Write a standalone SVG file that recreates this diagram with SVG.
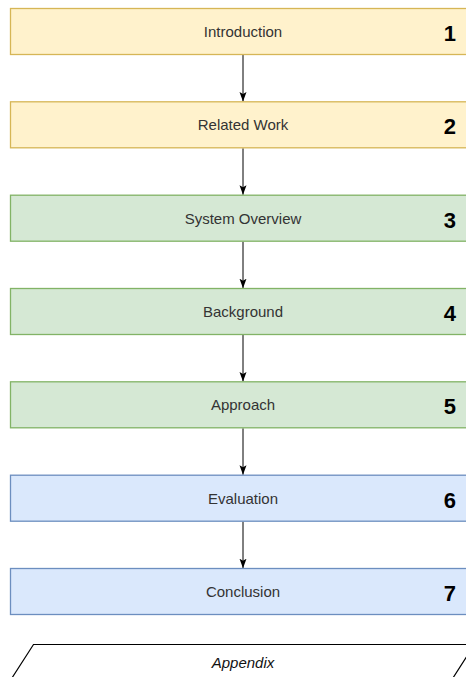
<svg xmlns="http://www.w3.org/2000/svg" width="466" height="677" viewBox="0 0 466 677">
  <defs>
    <style>
      .box { stroke-width: 1.3; }
      .yellow { fill: #fff2cc; stroke: #d6b656; }
      .green { fill: #d5e8d4; stroke: #82b366; }
      .blue { fill: #dae8fc; stroke: #6c8ebf; }
      .label { font-family: "Liberation Sans", Arial, sans-serif; font-size: 15px; fill: #333333; text-anchor: middle; }
      .num { font-family: "Liberation Sans", Arial, sans-serif; font-size: 22px; font-weight: bold; fill: #000000; text-anchor: end; }
      .edge { stroke: #000000; stroke-width: 1; fill: none; marker-end: url(#arrow); }
      .appendix { fill: #ffffff; stroke: #000000; stroke-width: 1.2; }
      .appendix-label { font-family: "Liberation Sans", Arial, sans-serif; font-size: 15px; font-style: italic; fill: #111111; text-anchor: middle; }
    </style>
    <!-- classic notched arrowhead, drawn pointing along +x -->
    <marker id="arrow" viewBox="0 0 10 8" markerWidth="10" markerHeight="8" refX="9.5" refY="4" orient="auto" markerUnits="userSpaceOnUse">
      <path d="M0,0.5 L2,4 L0,7.5 L9.5,4 Z" fill="#000000"/>
    </marker>
  </defs>

  <!-- connectors between consecutive sections -->
  <g id="connectors">
    <line class="edge" x1="243" y1="55" x2="243" y2="101.5"/>
    <line class="edge" x1="243" y1="148.3" x2="243" y2="194.8"/>
    <line class="edge" x1="243" y1="241.7" x2="243" y2="288.2"/>
    <line class="edge" x1="243" y1="335" x2="243" y2="381.5"/>
    <line class="edge" x1="243" y1="428.3" x2="243" y2="474.8"/>
    <line class="edge" x1="243" y1="521.7" x2="243" y2="568.2"/>
  </g>

  <g id="introduction">
    <rect class="box yellow" x="10.5" y="8.5" width="465" height="46"/>
    <text class="label" x="243" y="37">Introduction</text>
    <text class="num" x="456" y="41">1</text>
  </g>

  <g id="related-work">
    <rect class="box yellow" x="10.5" y="101.8" width="465" height="46"/>
    <text class="label" x="243" y="130.3">Related Work</text>
    <text class="num" x="456" y="134.3">2</text>
  </g>

  <g id="system-overview">
    <rect class="box green" x="10.5" y="195.2" width="465" height="46"/>
    <text class="label" x="243" y="223.7">System Overview</text>
    <text class="num" x="456" y="227.7">3</text>
  </g>

  <g id="background">
    <rect class="box green" x="10.5" y="288.5" width="465" height="46"/>
    <text class="label" x="243" y="317">Background</text>
    <text class="num" x="456" y="321">4</text>
  </g>

  <g id="approach">
    <rect class="box green" x="10.5" y="381.8" width="465" height="46"/>
    <text class="label" x="243" y="410.3">Approach</text>
    <text class="num" x="456" y="414.3">5</text>
  </g>

  <g id="evaluation">
    <rect class="box blue" x="10.5" y="475.2" width="465" height="46"/>
    <text class="label" x="243" y="503.7">Evaluation</text>
    <text class="num" x="456" y="507.7">6</text>
  </g>

  <g id="conclusion">
    <rect class="box blue" x="10.5" y="568.5" width="465" height="46"/>
    <text class="label" x="243" y="597">Conclusion</text>
    <text class="num" x="456" y="601">7</text>
  </g>

  <g id="appendix">
    <polygon class="appendix" points="33.5,644.5 474.5,644.5 451,681 10,681"/>
    <text class="appendix-label" x="243" y="668">Appendix</text>
  </g>
</svg>
